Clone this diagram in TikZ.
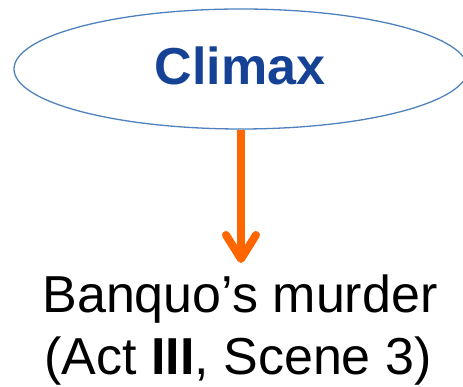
\documentclass[tikz,border=0pt]{standalone}
\usepackage{fontspec}
\setmainfont{Liberation Sans}
\usetikzlibrary{shapes.geometric,arrows.meta}
\definecolor{ellblue}{RGB}{79,129,189}
\definecolor{climblue}{RGB}{22,66,150}
\definecolor{arroworange}{RGB}{255,102,0}
\tikzset{
  x=1pt,y=1pt,
  ell/.style={ellipse,draw=ellblue,line width=1.3pt,minimum width=454pt,minimum height=120pt,inner sep=0pt},
  climtext/.style={font=\fontsize{52}{60}\selectfont\bfseries,text=climblue,inner sep=0pt},
  bodytext/.style={font=\fontsize{52}{62}\selectfont,text=black,inner sep=0pt,anchor=base},
  bigarrow/.style={draw=arroworange,line width=8pt,-{Straight Barb[length=24pt,width=30pt,round]}}
}
\begin{document}
\begin{tikzpicture}
\useasboundingbox (0,0) rectangle (463,387);
\node[ell] (c) at (241,318) {};
\node[climtext] (ct) at (240,321) {Climax};
\coordinate (tip) at (241,124);
\draw[bigarrow] (c.south) -- (tip);
\node[bodytext] (l1) at (240,74) {Banquo’s murder};
\node[bodytext] (l2) at (238,12) {(Act \textbf{III}, Scene 3)};
\end{tikzpicture}
\end{document}
